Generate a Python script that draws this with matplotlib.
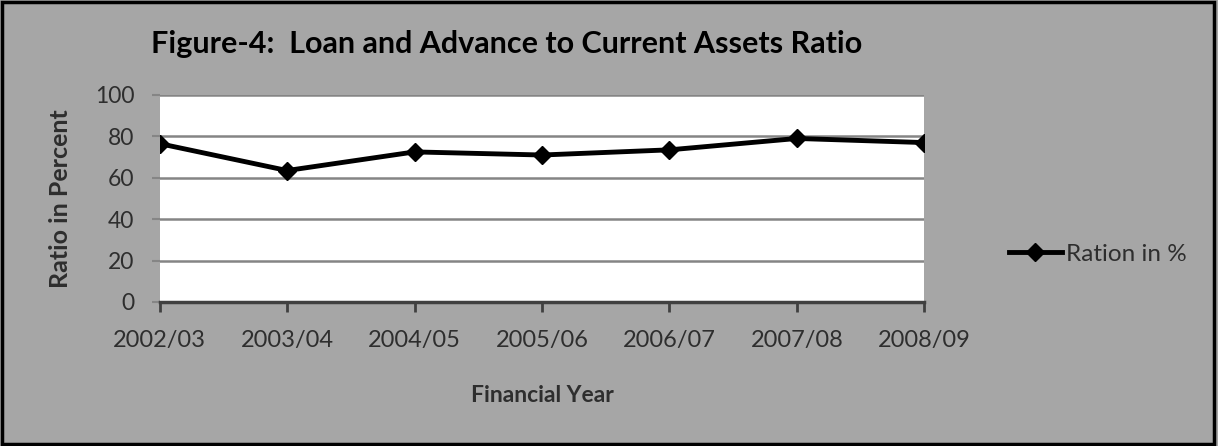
import matplotlib
matplotlib.use("Agg")
import matplotlib.pyplot as plt
from matplotlib.patches import Rectangle

# Loan and advance to current assets ratio, by financial year
years = ["2002/03", "2003/04", "2004/05", "2005/06", "2006/07", "2007/08", "2008/09"]
ratio = [76.5, 63.5, 72.5, 71.0, 73.5, 79.0, 77.0]
yticks = [0, 20, 40, 60, 80, 100]

plt.rcParams["font.family"] = ["Lato", "DejaVu Sans"]
bg = "#a6a6a6"
txt = "#2e2e2e"

fig = plt.figure(figsize=(12.18, 4.46), dpi=100, facecolor=bg)
ax = fig.add_axes([0.131, 0.323, 0.628, 0.464])
ax.set_facecolor("white")

x = list(range(len(years)))
ax.plot(x, ratio, color="black", lw=3.5, marker="D", ms=9, label="Ration in %")

ax.set_xlim(0, len(years) - 1)
ax.set_ylim(0, 100)
ax.set_yticks(yticks)
ax.set_xticks(x)
ax.set_xticklabels(years)
ax.yaxis.grid(True, color="#858585", lw=1.8)
ax.set_axisbelow(True)

for side in ["top", "right", "left"]:
    ax.spines[side].set_visible(False)
ax.spines["bottom"].set_color("#404040")
ax.spines["bottom"].set_linewidth(2.5)
ax.tick_params(axis="x", labelcolor=txt, color="#404040", labelsize=17, length=7, width=2, pad=13)
ax.tick_params(axis="y", labelcolor=txt, color="#858585", labelsize=16.5, length=6, width=1.5, pad=12)

ax.set_xlabel("Financial Year", fontsize=16.5, fontweight="bold", color=txt)
ax.xaxis.set_label_coords(0.5, -0.40)
ax.set_ylabel("Ratio in Percent", fontsize=18, fontweight="bold", color=txt, va="center")
ax.yaxis.set_label_coords(-0.13, 0.5)

fig.text(0.416, 0.902, "Figure-4:  Loan and Advance to Current Assets Ratio",
         ha="center", va="center", fontsize=22, fontweight="bold", color="black")

leg = fig.legend(loc="center left", bbox_to_anchor=(0.828, 0.43), frameon=False,
                 fontsize=17.5, handlelength=2.2, handletextpad=0.15,
                 borderaxespad=0, borderpad=0)
for t in leg.get_texts():
    t.set_color(txt)

# outer chart border
fig.patches.append(Rectangle((0.002, 0.004), 0.995, 0.992, transform=fig.transFigure,
                             fill=False, edgecolor="black", lw=2.5))

fig.savefig("out.png", dpi=100, facecolor=bg)
